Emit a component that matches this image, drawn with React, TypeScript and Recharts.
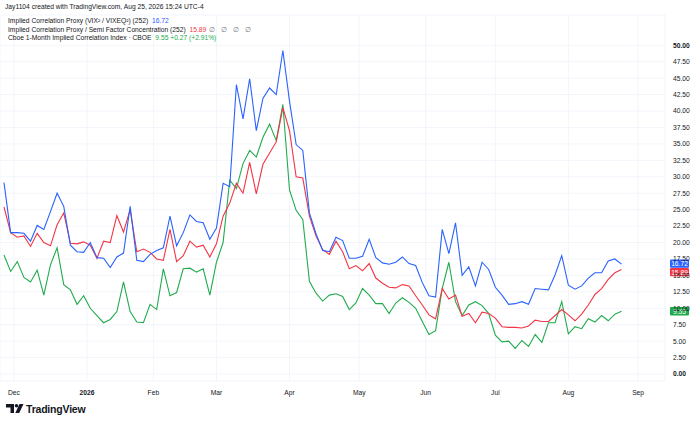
import React from "react"
import { CartesianGrid, Line, LineChart, ReferenceLine, XAxis, YAxis } from "recharts"

// trading-day index (0 = Dec 1, 2025), every second session
const tradingDay = [
  -3, -1, 1, 3, 5, 7, 9, 11, 13, 15, 17, 19, 21, 23, 25, 27, 29, 31, 33, 35,
  37, 39, 41, 43, 45, 47, 49, 51, 53, 55, 57, 59, 61, 63, 65, 67, 69, 71, 73, 75,
  77, 79, 81, 83, 85, 87, 89, 91, 93, 95, 97, 99, 101, 103, 105, 107, 109, 111, 113, 115,
  117, 119, 121, 123, 125, 127, 129, 131, 133, 135, 137, 139, 141, 143, 145, 147, 149, 151, 153, 155,
  157, 159, 161, 163, 165, 167, 169, 171, 173, 175, 177, 179, 181, 183,
]

// Implied Correlation Proxy (VIX² / VIXEQ²)
const vixProxy = [
  29.1, 21.5, 21.5, 21.4, 20.2, 22.6, 22.0, 24.7, 27.5, 25.5,
  19.6, 18.6, 18.5, 20.0, 17.7, 17.6, 16.2, 17.8, 18.4, 25.5,
  17.3, 17.1, 18.2, 18.8, 19.2, 24.0, 19.5, 21.5, 24.2, 23.2,
  23.0, 20.5, 22.2, 29.0, 28.5, 44.0, 38.8, 44.9, 37.0, 41.9,
  43.5, 42.5, 49.2, 41.5, 34.9, 34.0, 24.5, 21.3, 18.8, 18.6,
  20.8, 20.3, 17.6, 17.6, 17.9, 20.5, 17.7, 16.9, 16.7, 17.0,
  17.8, 16.8, 16.5, 13.9, 11.9, 11.7, 22.0, 18.3, 23.0, 15.0,
  16.3, 13.4, 17.0, 15.9, 13.2, 12.0, 10.6, 10.7, 11.0, 10.6,
  13.0, 12.9, 12.8, 15.1, 18.0, 13.5, 12.9, 13.4, 14.6, 15.4,
  15.4, 17.2, 17.5, 16.72,
]

// Implied Correlation Proxy / Semi Factor Concentration
const semiProxy = [
  25.4, 21.5, 20.8, 21.0, 19.4, 21.4, 20.0, 19.5, 22.7, 24.5,
  19.9, 19.8, 20.1, 19.6, 17.6, 20.2, 20.0, 24.1, 21.6, 25.0,
  18.6, 19.0, 18.5, 17.5, 17.3, 22.0, 17.1, 18.0, 20.2, 19.3,
  19.6, 17.8, 19.8, 24.0, 26.0, 29.0, 27.5, 32.2, 27.4, 31.9,
  33.6, 35.3, 40.5, 37.0, 30.0, 29.8, 24.0, 21.0, 18.9, 18.2,
  20.2, 18.6, 16.0, 16.5, 15.7, 16.8, 14.6, 13.8, 13.2, 13.1,
  13.6, 13.4, 11.9, 10.5, 9.0, 8.4, 13.0, 11.4, 12.0, 8.8,
  9.2, 7.8, 9.4, 9.2, 8.5, 7.2, 7.1, 7.1, 7.0, 7.3,
  8.2, 8.0, 8.0, 8.9, 9.8, 9.0, 8.1, 9.1, 10.5, 12.1,
  13.0, 14.4, 15.4, 15.89,
]

// Cboe 1-Month Implied Correlation Index
const cboeCorr = [
  18.1, 15.6, 17.1, 14.7, 14.0, 15.8, 12.0, 16.6, 19.2, 13.6,
  12.8, 10.6, 11.9, 10.0, 8.9, 7.8, 8.3, 9.5, 14.0, 9.5,
  7.9, 7.8, 10.6, 9.8, 16.0, 11.9, 12.4, 16.0, 16.1, 15.5,
  16.0, 12.0, 17.0, 20.0, 29.5, 28.2, 32.0, 34.0, 33.0, 36.0,
  38.0, 35.5, 41.0, 28.0, 24.9, 23.5, 14.1, 12.3, 11.1, 12.0,
  12.2, 11.8, 9.8, 10.8, 13.0, 12.0, 10.7, 10.7, 9.2, 10.8,
  11.6, 10.9, 10.0, 8.0, 6.0, 6.6, 13.0, 17.0, 11.0, 8.9,
  10.5, 11.0, 10.4, 9.2, 5.9, 4.9, 5.0, 3.9, 5.1, 4.2,
  6.0, 4.8, 7.8, 7.8, 11.0, 6.1, 7.2, 6.9, 8.4, 7.9,
  8.9, 8.1, 9.1, 9.55,
]

const monthStarts = [0, 22, 42, 61, 83, 104, 124, 145, 167, 188]
const monthLabels = ["Dec", "2026", "Feb", "Mar", "Apr", "May", "Jun", "Jul", "Aug", "Sep"]

const priceTicks = [
  0, 2.5, 5, 7.5, 10, 12.5, 15, 17.5, 20, 22.5, 25, 27.5, 30, 32.5, 35, 37.5, 40, 42.5, 45, 47.5, 50,
]

const BLUE = "#2962FF"
const RED = "#F23645"
const GREEN = "#22AB4E"
const FONT = '"Liberation Sans", Arial, sans-serif'

const data = tradingDay.map((t, i) => ({
  t,
  vix: vixProxy[i],
  semi: semiProxy[i],
  cboe: cboeCorr[i],
}))

const MonthTick = (props: any) => {
  const { x, y, payload } = props
  const idx = monthStarts.indexOf(payload.value)
  const label = monthLabels[idx]
  return (
    <text x={x} y={y} dy={6} textAnchor="middle" fontSize={6.7} fontFamily={FONT}
      fill="#131722" fontWeight={label === "2026" ? 700 : 400}>
      {label}
    </text>
  )
}

const PriceTick = (props: any) => {
  const { x, y, payload } = props
  const v = payload.value
  return (
    <text x={x} y={y} dy={2.4} textAnchor="start" fontSize={6.7} fontFamily={FONT}
      fill="#131722" fontWeight={v === 0 || v === 50 ? 700 : 400}>
      {v.toFixed(2)}
    </text>
  )
}

// last-value badge on the price scale (covers the tick label behind it)
const Badge = (props: any) => {
  const { viewBox, text, color, shift } = props
  if (!viewBox) return null
  const x = viewBox.x + viewBox.width + 5
  const y = viewBox.y + (shift || 0)
  return (
    <g>
      <rect x={x} y={y - 4.2} width={19} height={8.4} rx={1} fill={color} />
      <text x={x + 9.5} y={y} dy={2.4} textAnchor="middle" fontSize={6.7}
        fontFamily={FONT} fill="#ffffff">
        {text}
      </text>
    </g>
  )
}

const legendRow: React.CSSProperties = {
  position: "absolute",
  left: 8,
  fontSize: 6.7,
  lineHeight: "8px",
  color: "#131722",
  whiteSpace: "nowrap",
}

export default function App() {
  const last = data.length - 1
  return (
    <div style={{ position: "absolute", left: 0, top: 0, width: 700, height: 424,
      background: "#ffffff", fontFamily: FONT, overflow: "hidden" }}>
      <div style={{ position: "absolute", left: 5, top: 3, fontSize: 6.7, lineHeight: "8px",
        color: "#131722", whiteSpace: "nowrap" }}>
        Jay1104 created with TradingView.com, Aug 25, 2026 15:24 UTC-4
      </div>

      <LineChart width={700} height={424} data={data}
        margin={{ top: 15, right: 0, bottom: 23, left: 0 }}
        style={{ position: "absolute", left: 0, top: 0 }}>
        <CartesianGrid stroke="#f0f3fa" strokeWidth={0.8} />
        <XAxis dataKey="t" type="number" domain={[-4.2, 196.1]} allowDataOverflow
          ticks={monthStarts} interval={0} tick={<MonthTick />} tickLine={false}
          axisLine={false} tickSize={0} tickMargin={8} height={20} />
        <YAxis orientation="right" domain={[-1.06, 54.6]} allowDataOverflow
          ticks={priceTicks} interval={0} tick={<PriceTick />} tickLine={false}
          axisLine={false} tickSize={0} tickMargin={8} width={35} />
        <Line dataKey="cboe" stroke={GREEN} strokeWidth={1.1} dot={false}
          isAnimationActive={false} />
        <Line dataKey="semi" stroke={RED} strokeWidth={1.1} dot={false}
          isAnimationActive={false} />
        <Line dataKey="vix" stroke={BLUE} strokeWidth={1.1} dot={false}
          isAnimationActive={false} />
        <ReferenceLine y={vixProxy[last]} stroke="none"
          label={<Badge text={vixProxy[last].toFixed(2)} color={BLUE} shift={-0.5} />} />
        <ReferenceLine y={semiProxy[last]} stroke="none"
          label={<Badge text={semiProxy[last].toFixed(2)} color={RED} shift={2.6} />} />
        <ReferenceLine y={cboeCorr[last]} stroke="none"
          label={<Badge text={cboeCorr[last].toFixed(2)} color="#1faa4b" shift={0} />} />
      </LineChart>

      <div style={{ ...legendRow, top: 17 }}>
        Implied Correlation Proxy (VIX² / VIXEQ²) (252){" "}
        <span style={{ color: BLUE, marginLeft: 2 }}>{vixProxy[last].toFixed(2)}</span>
      </div>
      <div style={{ ...legendRow, top: 25.5 }}>
        Implied Correlation Proxy / Semi Factor Concentration (252){" "}
        <span style={{ color: RED, marginLeft: 2 }}>{semiProxy[last].toFixed(2)}</span>
        <span style={{ color: "#787b86", marginLeft: 3, letterSpacing: 2 }}>∅ ∅ ∅ ∅</span>
      </div>
      <div style={{ ...legendRow, top: 34 }}>
        Cboe 1-Month Implied Correlation Index · CBOE{" "}
        <span style={{ color: GREEN, marginLeft: 2 }}>
          {cboeCorr[last].toFixed(2)} +0.27 (+2.91%)
        </span>
      </div>

      <svg width={90} height={16} style={{ position: "absolute", left: 4, top: 402 }}>
        <path d="M2 2 H10 V11 H6.5 V5.5 H2 Z" fill="#131722" />
        <circle cx={12.5} cy={3.8} r={1.8} fill="#131722" />
        <path d="M15.5 2 H19.5 L15.2 11 H11.3 Z" fill="#131722" />
        <text x={22} y={10.8} fontSize={10.5} fontWeight={700} fontFamily={FONT}
          fill="#131722" letterSpacing={-0.2}>
          TradingView
        </text>
      </svg>
    </div>
  )
}
